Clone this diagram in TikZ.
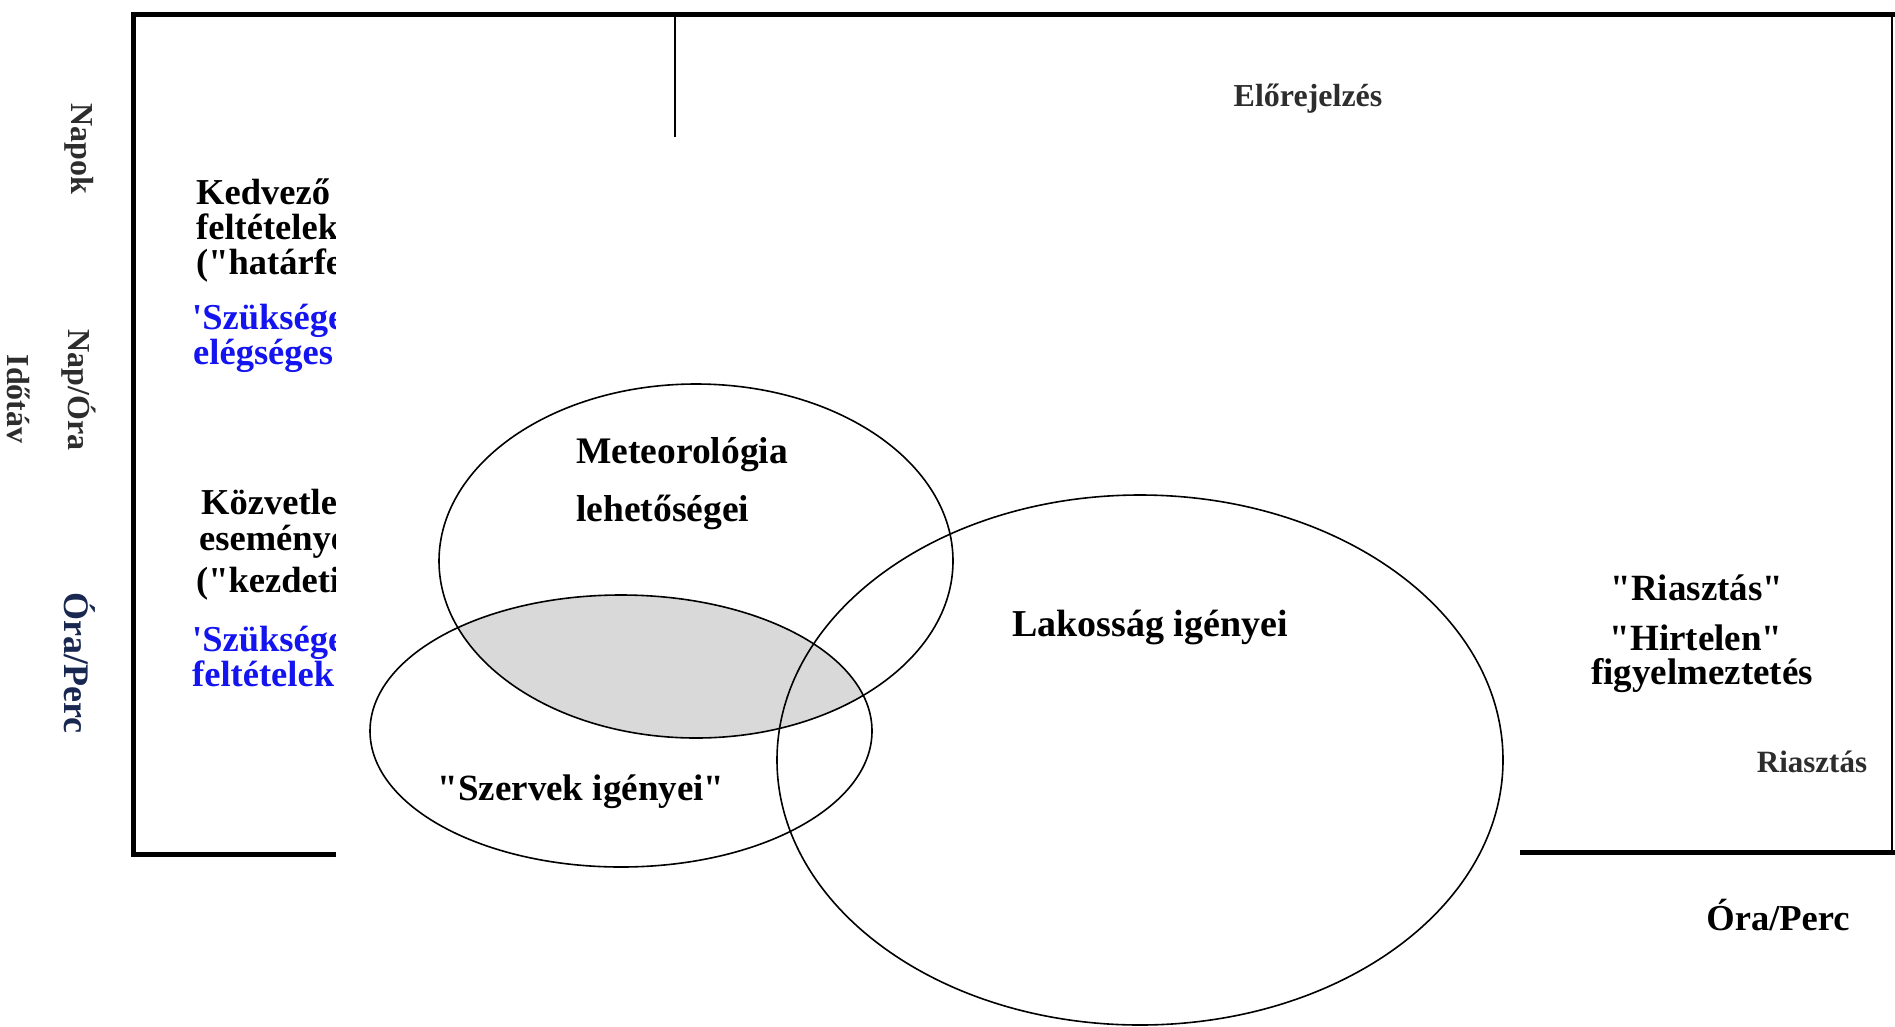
\documentclass[tikz,border=0pt]{standalone}
\usepackage{fontspec}
\setmainfont{Liberation Serif}[Ligatures=TeXOff]
\definecolor{txtblue}{RGB}{20,20,240}
\definecolor{navy}{RGB}{25,40,80}
\definecolor{dgray}{RGB}{45,45,45}
\begin{document}
\begin{tikzpicture}[x=1pt,y=-1pt,
  lbl/.style={font=\bfseries\fontsize{36.5}{36}\selectfont, inner sep=0pt, align=left},
  rlbl/.style={font=\bfseries\fontsize{37}{36}\selectfont, inner sep=0pt, align=center},
  axislbl/.style={font=\bfseries\fontsize{32}{32}\selectfont, inner sep=0pt, rotate=-90},
  frameline/.style={line width=5pt},
  thinline/.style={line width=1.5pt},
  venn/.style={line width=1.6pt}]
\useasboundingbox (0,0) rectangle (1895,1026);
\fill[white] (0,0) rectangle (1895,1026);

% frame
\draw[frameline] (1895,14) -- (133,14) -- (133,854) -- (1520,854);
\draw[frameline] (1520,852) -- (1895,852);
\draw[thinline] (1892,14) -- (1892,852);
\draw[thinline] (675,14) -- (675,137);

% axis labels
\node[axislbl, text=dgray] (napok) at (79,149) {Napok};
\node[axislbl, text=dgray] (napora) at (79,390) {Nap/Óra};
\node[axislbl, text=navy, font=\bfseries\fontsize{36}{36}\selectfont] (oraperc) at (80,663) {Óra/Perc};
\node[axislbl, text=dgray] (idotav) at (19,399) {Időtáv};

% left texts (partly covered)
\node[lbl, anchor=base west] (kedv1) at (196,204) {Kedvező};
\node[lbl, anchor=base west] (kedv2) at (196,239) {feltételek};
\node[lbl, anchor=base west] (kedv3) at (196,274) {("határfeltételek")};
\node[lbl, anchor=base west, text=txtblue] (szuk1) at (192,329) {'Szükséges};
\node[lbl, anchor=base west, text=txtblue] (szuk2) at (193,364) {elégséges'};
\node[lbl, anchor=base west] (kozv1) at (201,514) {Közvetlen};
\node[lbl, anchor=base west] (kozv2) at (199,550) {események};
\node[lbl, anchor=base west] (kozv3) at (196,592) {("kezdeti};
\node[lbl, anchor=base west, text=txtblue] (szuk3) at (192,651) {'Szükséges};
\node[lbl, anchor=base west, text=txtblue] (szuk4) at (192,686) {feltételek'};

% white overlay
\fill[white] (336,137) rectangle (1520,1026);

% top right
\node[rlbl, anchor=base, text=dgray, font=\bfseries\fontsize{32}{32}\selectfont] (elore) at (1308,106) {Előrejelzés};

% right texts
\node[rlbl, anchor=base] (riasz1) at (1697,600) {"Riasztás"};
\node[rlbl, anchor=base] (hirt) at (1696,650) {"Hirtelen"};
\node[rlbl, anchor=base] (figy) at (1702,684) {figyelmeztetés};
\node[rlbl, anchor=base, text=dgray, font=\bfseries\fontsize{31}{31}\selectfont] (riasz2) at (1812,772) {Riasztás};
\node[rlbl, anchor=base, font=\bfseries\fontsize{36.5}{36}\selectfont] (oraperc2) at (1778,930) {Óra/Perc};

% venn shading
\begin{scope}
  \clip (696,561) ellipse [x radius=257pt, y radius=177pt];
  \fill[black!15] (621,731) ellipse [x radius=251pt, y radius=136pt];
\end{scope}

% ellipses
\draw[venn] (696,561) ellipse [x radius=257pt, y radius=177pt];
\draw[venn] (621,731) ellipse [x radius=251pt, y radius=136pt];
\draw[venn] (1140,760) ellipse [x radius=363pt, y radius=265pt];

% ellipse texts
\node[lbl, anchor=base west, font=\bfseries\fontsize{37.5}{36}\selectfont] (met1) at (576,463) {Meteorológia};
\node[lbl, anchor=base west, font=\bfseries\fontsize{37.5}{36}\selectfont] (met2) at (576,521) {lehetőségei};
\node[rlbl, anchor=base, font=\bfseries\fontsize{38}{36}\selectfont] (lak) at (1150,636) {Lakosság igényei};
\node[rlbl, anchor=base] (szerv) at (581,800) {"Szervek igényei"};
\end{tikzpicture}
\end{document}
